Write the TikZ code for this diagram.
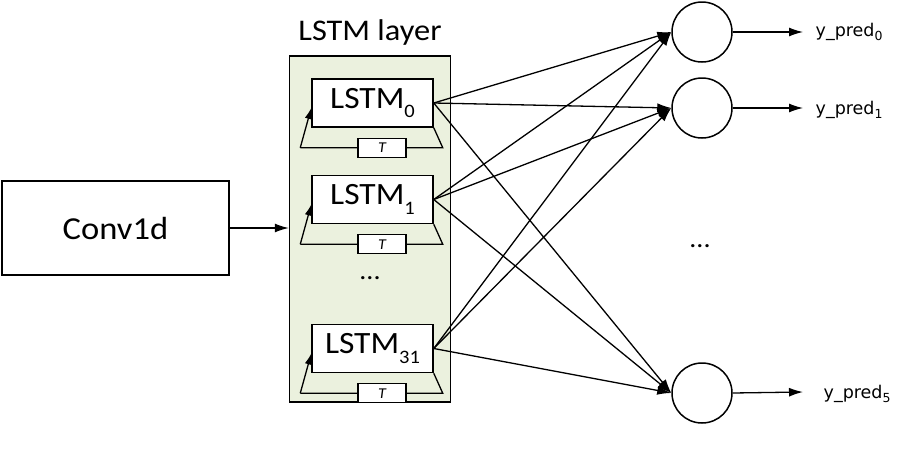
\documentclass[tikz,border=0pt]{standalone}
\usepackage{fontspec}
\setmainfont[FakeStretch=1.08]{Carlito}
\newfontfamily\ysans{DejaVu Sans}
\usetikzlibrary{arrows.meta,calc}
\definecolor{layerfill}{RGB}{235,241,222}
\newcommand\lsub[1]{\raisebox{-0.3em}{\fontsize{19}{19}\selectfont #1}}
\newcommand\ysub[1]{\raisebox{-0.25em}{\fontsize{12.5}{12.5}\selectfont #1}}
\begin{document}
\begin{tikzpicture}[x=1pt,y=-1pt,
  every path/.style={line width=1.3pt},
  conn/.style={draw,-{Latex[length=14pt,width=9pt]}},
  fb/.style={draw,-{Latex[length=11pt,width=7pt]}},
  lstmbox/.style={draw,fill=white,line width=1.5pt,minimum width=121pt,minimum height=48pt,inner sep=0pt,font=\fontsize{31}{31}\selectfont},
  tbox/.style={draw,fill=white,line width=1.3pt,minimum width=48pt,minimum height=19pt,inner sep=0pt,font=\fontsize{15}{15}\selectfont\itshape},
  outc/.style={draw,circle,line width=1.5pt,minimum size=60pt,inner sep=0pt},
  ylab/.style={anchor=west,inner sep=0pt,font=\ysans\fontsize{17.5}{17.5}\selectfont}
]
\useasboundingbox (0,0) rectangle (924,461);
% Conv1d
\node[draw,line width=1.5pt,minimum width=227pt,minimum height=94pt,inner sep=0pt,font=\fontsize{32}{32}\selectfont] (conv) at (115.5,228) {Conv1d};
% layer
\node[draw,fill=layerfill,line width=1.5pt,minimum width=161pt,minimum height=346pt,inner sep=0pt] (layer) at (370,229) {};
\node[font=\fontsize{30}{30}\selectfont,inner sep=0pt] (ltitle) at (370,32) {LSTM layer};
% LSTM boxes
\node[lstmbox] (l0) at (372.5,103) {LSTM\lsub{0}};
\node[lstmbox] (l1) at (372.5,199.5) {LSTM\lsub{1}};
\node[lstmbox] (l31) at (372.5,348.5) {LSTM\lsub{31}};
\node[font=\fontsize{26}{26}\selectfont,inner sep=0pt] (ldots) at (370,278) {...};
% feedback loops
\foreach \n in {l0,l1,l31}{
  \coordinate (\n r) at ($(\n.south east)+(9,20)$);
  \coordinate (\n l) at ($(\n.south west)+(-11,20)$);
  \draw (\n.south east) -- (\n r) -- (\n l);
  \draw[fb] (\n l) -- ($(\n.west)+(0,5)$);
  \node[tbox] (\n t) at ($(\n.south)+(9.5,20)$) {T};
}
% conv arrow
\draw[conn] (conv.east) -- (conv.east -| layer.west);
% outputs
\node[outc] (c0) at (702,32) {};
\node[outc] (c1) at (702,108) {};
\node[outc] (c5) at (702,393) {};
\node[font=\fontsize{26}{26}\selectfont,inner sep=0pt] (odots) at (700,246) {...};
\foreach \s in {l0,l1,l31}{
  \foreach \t in {c0,c1,c5}{
    \draw[conn] (\s.east) -- (\t.west);
  }
}
\coordinate (e0) at (803,32);
\coordinate (e1) at (803,108);
\coordinate (e5) at (803,392);
\draw[conn] (c0.east) -- (e0);
\draw[conn] (c1.east) -- (e1);
\draw[conn] (c5.east) -- (e5);
\node[ylab] (y0) at (815,32) {y\_pred\ysub{0}};
\node[ylab] (y1) at (815,110) {y\_pred\ysub{1}};
\node[ylab] (y5) at (823,394) {y\_pred\ysub{5}};
\end{tikzpicture}
\end{document}
